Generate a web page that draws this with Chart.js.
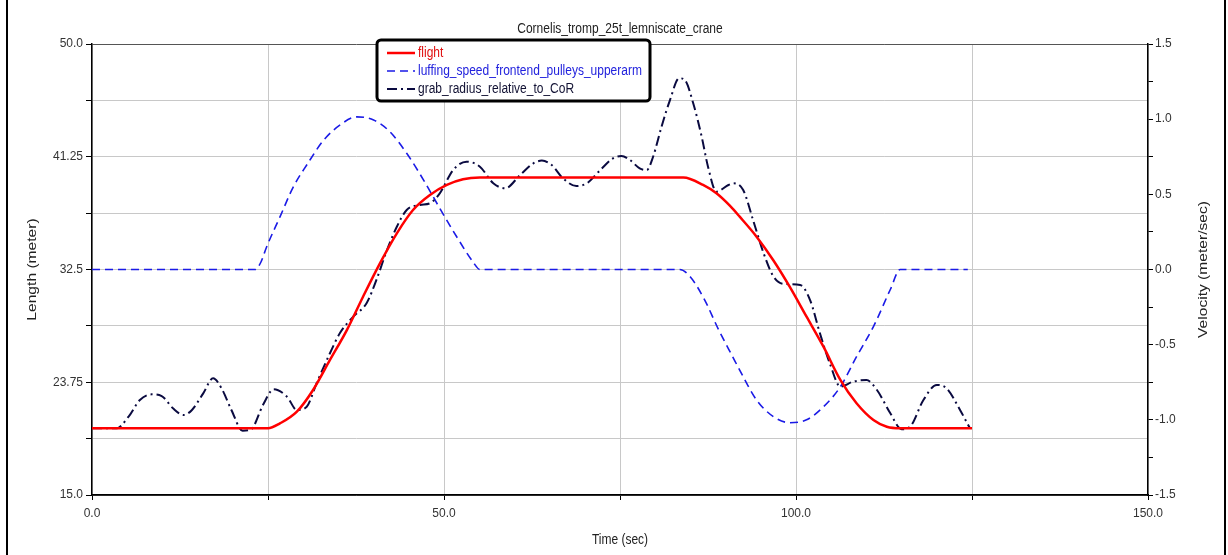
<!DOCTYPE html>
<html>
<head>
<meta charset="utf-8">
<title>Cornelis_tromp_25t_lemniscate_crane</title>
<script src="https://cdn.jsdelivr.net/npm/chart.js@4.4.1/dist/chart.umd.min.js"></script>
<style>
    html, body { margin: 0; padding: 0; background: #fff; }
    #wrap { position: relative; width: 1228px; height: 555px; }
</style>
</head>
<body>
<div id="wrap"><canvas id="craneChart"></canvas></div>
<script>
// Series data
const flightTime = [0, 25.0, 26.7, 29.1, 31.4, 33.8, 36.2, 38.5, 40.9, 43.3, 45.6, 48.0, 50.4, 52.7, 55.1,
    84.0, 86.8, 88.7, 90.6, 92.0, 94.4, 96.8, 99.1, 101.5, 103.9, 106.3, 108.6, 111.0, 112.9, 114.8, 125];
const flightLength = [20.18, 20.18, 20.56, 21.47, 23.15, 25.48, 27.8, 30.39, 32.98, 35.31, 37.12, 38.28, 39.06, 39.5, 39.63,
    39.63, 39.06, 38.41, 37.45, 36.6, 35.05, 33.2, 31.17, 28.84, 26.51, 23.93, 22.12, 20.82, 20.3, 20.18, 20.18];

const luffTime = [0, 23.2, 24.0, 24.8, 26.7, 28.6, 30.5, 32.9, 35.2, 37.6, 40.0, 42.3, 44.7, 47.1, 49.4, 51.8, 54.2, 55.1,
    83.5, 85.0, 87.0, 89.0, 91.0, 92.0, 94.4, 96.8, 99.1, 101.5, 103.9, 106.3, 108.6, 111.0, 113.4, 114.8, 124.4];
const luffSpeed = [0, 0, 0.05, 0.15, 0.35, 0.55, 0.695, 0.86, 0.96, 1.015, 0.995, 0.917, 0.773, 0.595, 0.407, 0.218, 0.045, 0,
    0, -0.05, -0.2, -0.4, -0.58, -0.669, -0.868, -0.979, -1.019, -1.0, -0.913, -0.78, -0.58, -0.38, -0.133, 0, 0];

const grabTime = [0, 3.5, 5.2, 6.8, 8.5, 9.9, 11.5, 13.0, 14.2, 15.8, 17.2, 18.4, 19.8, 21.4, 22.6, 24.3, 25.8, 27.7, 29.1,
    30.5, 31.9, 33.8, 35.2, 37.1, 39.0, 40.4, 41.9, 43.3, 44.7, 46.6, 48.0, 49.4, 51.3, 53.2, 55.1, 57.0, 58.7, 60.8,
    62.7, 63.9, 65.3, 66.9, 68.8, 70.3, 72.2, 74.0, 75.2, 76.4, 77.8, 78.8, 79.7, 80.9, 82.1, 83.4, 84.2, 85.4, 86.6,
    87.5, 88.7, 90.4, 91.1, 92.5, 93.9, 95.4, 96.8, 98.2, 100.6, 102.0, 103.4, 104.8, 106.3, 108.1, 110.0, 111.5,
    113.4, 115.0, 116.2, 118.1, 120.0, 121.4, 123.3, 124.7];
const grabRadius = [20.18, 20.18, 21.08, 22.37, 22.81, 22.68, 21.73, 21.21, 21.6, 22.89, 24.06, 23.28, 21.6, 19.99, 20.1, 22.0, 23.2, 22.63, 21.6,
    21.85, 23.67, 26.0, 27.55, 28.84, 29.88, 31.69, 34.01, 35.82, 37.12, 37.51, 37.64, 38.41, 40.22, 40.87, 40.48, 39.19, 38.8, 39.83,
    40.74, 40.95, 40.61, 39.58, 38.98, 39.19, 40.22, 41.13, 41.31, 41.0, 40.35, 40.22, 41.25, 43.58, 45.65, 47.34, 47.21, 45.4, 42.81,
    40.48, 38.54, 39.06, 39.19, 38.67, 36.34, 33.76, 31.95, 31.38, 31.3, 30.13, 27.55, 25.22, 23.41, 23.79, 23.92, 23.15,
    21.34, 20.1, 20.3, 22.37, 23.54, 23.28, 21.6, 20.18];

// Axis ticks (labelled ones are a subset)
const timeTicks = [0, 25, 50, 75, 100, 125, 150];
const timeLabels = [0, 50, 100, 150];
const lengthTicks = [15, 19.375, 23.75, 28.125, 32.5, 36.875, 41.25, 45.625, 50];
const lengthLabels = [15, 23.75, 32.5, 41.25, 50];
const speedTicks = [-1.5, -1.25, -1.0, -0.75, -0.5, -0.25, 0, 0.25, 0.5, 0.75, 1.0, 1.25, 1.5];
const speedLabels = [-1.5, -1.0, -0.5, 0, 0.5, 1.0, 1.5];

const chartTitle = 'Cornelis_tromp_25t_lemniscate_crane';
const seriesNames = ['flight', 'luffing_speed_frontend_pulleys_upperarm', 'grab_radius_relative_to_CoR'];

const toPoints = (xs, ys) => xs.map((x, i) => ({ x: x, y: ys[i] }));
const fmtOne = v => Number.isInteger(v) ? v.toFixed(1) : String(v);

const FONT = '"Liberation Sans", Arial, sans-serif';

// draws title, axis titles, legend box and outer frame
const decorPlugin = {
    id: 'decor',
    afterDraw(chart) {
        const ctx = chart.ctx;
        const area = chart.chartArea;
        ctx.save();

        // outer frame (side edges)
        ctx.strokeStyle = '#000';
        ctx.lineWidth = 2;
        ctx.beginPath();
        ctx.moveTo(7, 0); ctx.lineTo(7, 555);
        ctx.moveTo(1225, 0); ctx.lineTo(1225, 555);
        ctx.stroke();

        ctx.fillStyle = '#222';
        ctx.textAlign = 'center';
        ctx.textBaseline = 'middle';
        ctx.font = '12px ' + FONT;

        // title (slightly tall text like the original)
        ctx.save();
        ctx.translate((area.left + area.right) / 2, 29);
        ctx.scale(1, 1.15);
        ctx.fillText(chartTitle, 0, 0);
        ctx.restore();

        ctx.save();
        ctx.translate((area.left + area.right) / 2, 540);
        ctx.scale(1, 1.15);
        ctx.fillText('Time (sec)', 0, 0);
        ctx.restore();

        ctx.save();
        ctx.translate(33, (area.top + area.bottom) / 2);
        ctx.rotate(-Math.PI / 2);
        ctx.scale(1.3, 1);
        ctx.fillText('Length (meter)', 0, 0);
        ctx.restore();

        ctx.save();
        ctx.translate(1204, (area.top + area.bottom) / 2);
        ctx.rotate(-Math.PI / 2);
        ctx.scale(1.3, 1);
        ctx.fillText('Velocity (meter/sec)', 0, 0);
        ctx.restore();

        // legend
        const bx = 377, by = 40, bw = 273, bh = 61;
        ctx.fillStyle = '#fff';
        ctx.strokeStyle = '#000';
        ctx.lineWidth = 3;
        ctx.beginPath();
        ctx.roundRect(bx, by, bw, bh, 4);
        ctx.fill();
        ctx.stroke();

        ctx.textAlign = 'left';
        chart.data.datasets.forEach((ds, i) => {
            const y = 53 + i * 18;
            ctx.strokeStyle = ds.borderColor;
            ctx.lineWidth = ds.borderWidth;
            ctx.setLineDash(ds.borderDash || []);
            ctx.beginPath();
            ctx.moveTo(387, y);
            ctx.lineTo(415, y);
            ctx.stroke();
            ctx.setLineDash([]);
            ctx.fillStyle = ds.legendText;
            ctx.save();
            ctx.translate(418, y);
            ctx.scale(1, 1.15);
            ctx.fillText(ds.label, 0, 0);
            ctx.restore();
        });

        ctx.restore();
    }
};

const gridColor = ctx => (ctx.index === 0 || ctx.index === lengthTicks.length - 1) ? '#555' : '#c8c8c8';

new Chart(document.getElementById('craneChart'), {
    type: 'line',
    data: {
        datasets: [{
            label: seriesNames[0],
            data: toPoints(flightTime, flightLength),
            yAxisID: 'y',
            borderColor: '#ff0000',
            legendText: '#e01010',
            borderWidth: 2.5,
            pointRadius: 0,
            cubicInterpolationMode: 'monotone',
            order: 1
        }, {
            label: seriesNames[1],
            data: toPoints(luffTime, luffSpeed),
            yAxisID: 'y1',
            borderColor: '#1a1ae6',
            legendText: '#2222dd',
            borderWidth: 1.6,
            borderDash: [8, 5],
            pointRadius: 0,
            cubicInterpolationMode: 'monotone',
            order: 3
        }, {
            label: seriesNames[2],
            data: toPoints(grabTime, grabRadius),
            yAxisID: 'y',
            borderColor: '#0a0a40',
            legendText: '#111133',
            borderWidth: 2,
            borderDash: [10, 4, 2, 4],
            pointRadius: 0,
            cubicInterpolationMode: 'monotone',
            order: 2
        }]
    },
    options: {
        responsive: true,
        maintainAspectRatio: false,
        animation: false,
        layout: { padding: { top: 44, left: 0, right: 0, bottom: 0 } },
        plugins: {
            legend: { display: false },
            title: { display: false },
            tooltip: { enabled: false }
        },
        scales: {
            x: {
                type: 'linear',
                min: 0,
                max: 150,
                afterBuildTicks: s => { s.ticks = timeTicks.map(v => ({ value: v })); },
                afterFit: s => { s.height = 60; },
                ticks: {
                    autoSkip: false,
                    maxRotation: 0,
                    padding: 6,
                    color: '#333',
                    font: { family: FONT, size: 12 },
                    callback: v => timeLabels.includes(v) ? v.toFixed(1) : ''
                },
                grid: { color: '#c8c8c8', tickColor: '#000', tickLength: 5 },
                border: { color: '#000', width: 1.5 }
            },
            y: {
                position: 'left',
                min: 15,
                max: 50,
                afterBuildTicks: s => { s.ticks = lengthTicks.map(v => ({ value: v })); },
                afterFit: s => { s.width = 92; },
                ticks: {
                    autoSkip: false,
                    padding: 3,
                    color: '#333',
                    font: { family: FONT, size: 12 },
                    callback: v => lengthLabels.includes(v) ? fmtOne(v) : ''
                },
                grid: { color: gridColor, tickColor: '#000', tickLength: 6 },
                border: { color: '#000', width: 1.5 }
            },
            y1: {
                position: 'right',
                min: -1.5,
                max: 1.5,
                afterBuildTicks: s => { s.ticks = speedTicks.map(v => ({ value: v })); },
                afterFit: s => { s.width = 80; },
                ticks: {
                    autoSkip: false,
                    padding: 2,
                    color: '#333',
                    font: { family: FONT, size: 12 },
                    callback: v => speedLabels.includes(v) ? v.toFixed(1) : ''
                },
                grid: { drawOnChartArea: false, tickColor: '#000', tickLength: 5 },
                border: { color: '#000', width: 1.5 }
            }
        }
    },
    plugins: [decorPlugin]
});
</script>
</body>
</html>
